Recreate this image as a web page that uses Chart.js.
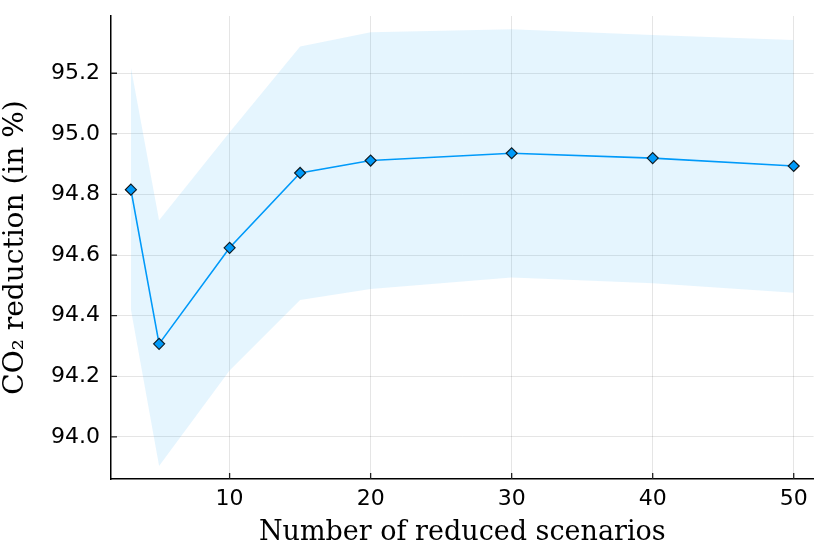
<!DOCTYPE html>
<html>
<head>
<meta charset="utf-8">
<script src="https://cdn.jsdelivr.net/npm/chart.js@4/dist/chart.umd.min.js"></script>
<style>
  html, body { margin: 0; padding: 0; background: #fff; }
  canvas { display: block; }
</style>
</head>
<body>
<canvas id="main" width="830" height="554"></canvas>
<script>
// number of reduced scenarios
const scenarios = [3, 5, 10, 15, 20, 30, 40, 50]
// mean CO2 reduction (%)
const meanReduction = [94.816, 94.307, 94.624, 94.871, 94.912, 94.936, 94.920, 94.894]
// spread band
const upperBand = [95.22, 94.715, 95.005, 95.288, 95.335, 95.345, 95.326, 95.310]
const lowerBand = [94.42, 93.904, 94.219, 94.452, 94.488, 94.526, 94.507, 94.476]

const xTicks = [10, 20, 30, 40, 50]
const yTicks = [94.0, 94.2, 94.4, 94.6, 94.8, 95.0, 95.2]

const BLUE = '#009AFA'
const BAND = 'rgba(0, 154, 250, 0.1)'

const toPoints = values => scenarios.map((x, i) => ({ x: x, y: values[i] }))

// small tick marks drawn inside the plot, like the original
const innerTicks = {
    id: 'innerTicks',
    afterDatasetsDraw(chart) {
        const { ctx, chartArea, scales } = chart
        ctx.save()
        ctx.strokeStyle = '#222'
        ctx.lineWidth = 1.3
        ctx.beginPath()
        xTicks.forEach(v => {
            const px = scales.x.getPixelForValue(v)
            ctx.moveTo(px, chartArea.bottom)
            ctx.lineTo(px, chartArea.bottom - 6)
        })
        yTicks.forEach(v => {
            const py = scales.y.getPixelForValue(v)
            ctx.moveTo(chartArea.left, py)
            ctx.lineTo(chartArea.left + 6, py)
        })
        ctx.stroke()
        ctx.restore()
    }
}

const ctx = document.querySelector('#main').getContext('2d')

new Chart(ctx, {
    type: 'line',
    data: {
        datasets: [{
            label: 'lower',
            data: toPoints(lowerBand),
            borderColor: 'transparent',
            borderWidth: 0,
            pointRadius: 0,
            fill: false
        }, {
            label: 'upper',
            data: toPoints(upperBand),
            borderColor: 'transparent',
            borderWidth: 0,
            backgroundColor: BAND,
            pointRadius: 0,
            fill: '-1'
        }, {
            label: 'mean',
            data: toPoints(meanReduction),
            borderColor: BLUE,
            borderWidth: 1.6,
            backgroundColor: BLUE,
            pointStyle: 'rectRot',
            pointRadius: 5.5,
            pointBorderColor: '#111',
            pointBorderWidth: 1.2,
            pointBackgroundColor: BLUE,
            fill: false
        }]
    },
    options: {
        responsive: false,
        animation: false,
        layout: { padding: { top: 16, right: 16.4, left: 0, bottom: 0 } },
        plugins: {
            legend: { display: false },
            tooltip: { enabled: false }
        },
        scales: {
            x: {
                type: 'linear',
                min: 1.59,
                max: 51.41,
                afterBuildTicks: scale => { scale.ticks = xTicks.map(v => ({ value: v })) },
                afterFit: scale => {
                    scale.height = 75
                    scale.paddingLeft = 0
                    scale.paddingRight = 0
                },
                grid: { color: 'rgba(0,0,0,0.1)', lineWidth: 1, drawTicks: false },
                border: { display: true, color: '#000', width: 1.5 },
                ticks: {
                    padding: 7,
                    color: '#000',
                    font: { family: 'DejaVu Sans', size: 22 },
                    maxRotation: 0,
                    callback: v => String(v)
                },
                title: {
                    display: true,
                    text: 'Number of reduced scenarios',
                    color: '#000',
                    font: { family: 'DejaVu Serif', size: 27, lineHeight: 1 },
                    padding: { top: 0, bottom: 8 }
                }
            },
            y: {
                type: 'linear',
                min: 93.861,
                max: 95.389,
                afterBuildTicks: scale => { scale.ticks = yTicks.map(v => ({ value: v })) },
                afterFit: scale => {
                    scale.width = 111
                    scale.paddingTop = 0
                    scale.paddingBottom = 0
                },
                grid: { color: 'rgba(0,0,0,0.1)', lineWidth: 1, drawTicks: false },
                border: { display: true, color: '#000', width: 1.5 },
                ticks: {
                    padding: 11,
                    color: '#000',
                    font: { family: 'DejaVu Sans', size: 22 },
                    callback: v => Number(v).toFixed(1)
                },
                title: {
                    display: true,
                    text: 'CO₂ reduction (in %)',
                    color: '#000',
                    font: { family: 'DejaVu Serif', size: 28, lineHeight: 1 },
                    padding: { top: 2, bottom: 0 }
                }
            }
        }
    },
    plugins: [innerTicks]
})
</script>
</body>
</html>
